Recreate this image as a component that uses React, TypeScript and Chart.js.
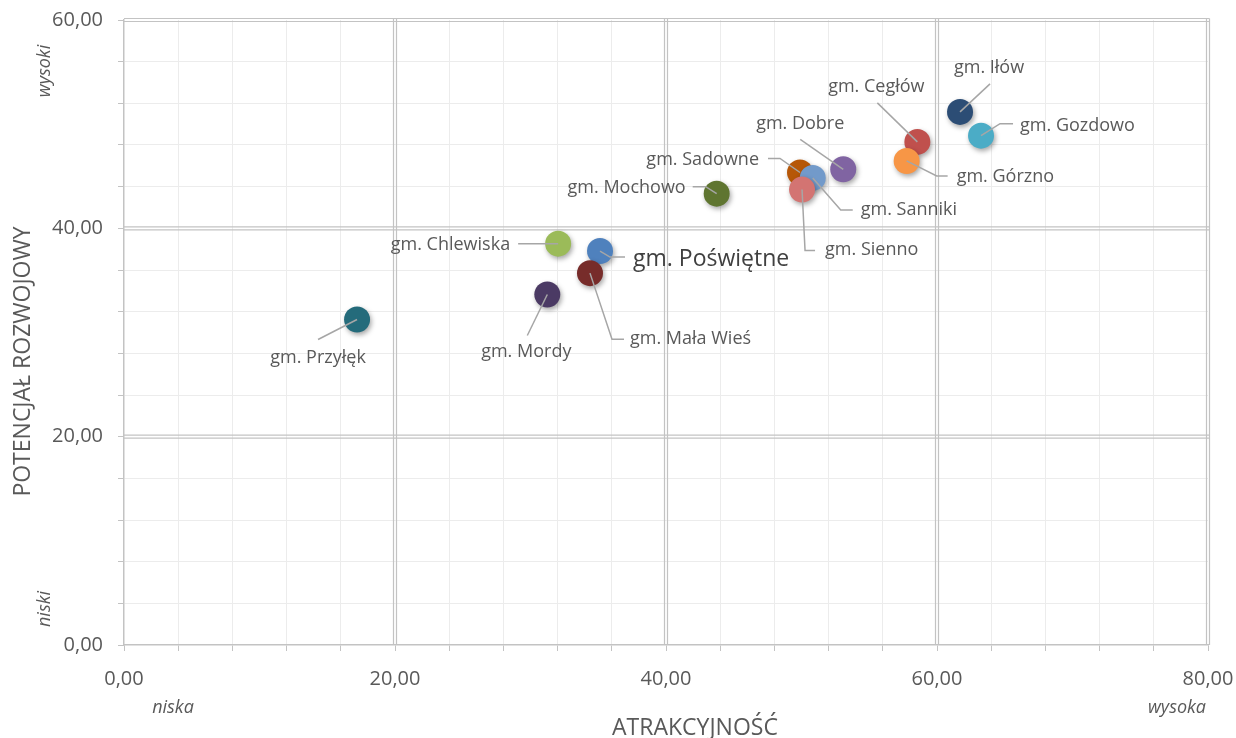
import React, { useEffect, useRef } from 'react';
import { Chart, registerables } from 'chart.js';

Chart.register(...registerables);

// ---- data ----
const gminy = [
  'gm. Przyłęk', 'gm. Mordy', 'gm. Chlewiska', 'gm. Poświętne', 'gm. Mała Wieś',
  'gm. Mochowo', 'gm. Sadowne', 'gm. Sanniki', 'gm. Sienno', 'gm. Dobre',
  'gm. Cegłów', 'gm. Górzno', 'gm. Iłów', 'gm. Gozdowo',
];
const atrakcyjnosc = [17.2, 31.24, 32.04, 35.13, 34.39, 43.74, 49.89, 50.83, 50.04, 53.08, 58.55, 57.76, 61.7, 63.25];
const potencjal = [31.25, 33.65, 38.53, 37.82, 35.7, 43.33, 45.36, 44.84, 43.72, 45.67, 48.3, 46.47, 51.18, 48.9];
const kolory = [
  '#246B7B', '#4B3A64', '#9BBB59', '#4F81BD', '#772C2A',
  '#5F7530', '#B65708', '#729ACA', '#D37472', '#8064A2',
  '#C0504D', '#F79646', '#2C4D75', '#4BACC6',
];
const highlighted = 'gm. Poświętne';

const xTitle = 'ATRAKCYJNOŚĆ';
const yTitle = 'POTENCJAŁ ROZWOJOWY';
const xLow = 'niska';
const xHigh = 'wysoka';
const yLow = 'niski';
const yHigh = 'wysoki';

const xMin = 0, xMax = 80, yMin = 0, yMax = 60;
const majorStep = 20;
const minorStep = 4;

// ---- label layout (pixel offsets from each point centre) ----
type Lay = { path: number[][]; text: number[]; align: CanvasTextAlign };
const labelLayout: Lay[] = [
  { path: [[-39, 20]], text: [-39, 38], align: 'center' },
  { path: [[-20, 41]], text: [-21, 57], align: 'center' },
  { path: [[-40, 0]], text: [-48, 1], align: 'right' },
  { path: [[10, 6], [25, 6]], text: [33, 8], align: 'left' },
  { path: [[22, 66], [34, 66]], text: [40, 66], align: 'left' },
  { path: [[-11, -7], [-24, -7]], text: [-31, -6], align: 'right' },
  { path: [[-20, -14], [-32, -14]], text: [-41, -13], align: 'right' },
  { path: [[28, 32], [40, 32]], text: [48, 32], align: 'left' },
  { path: [[3, 61], [13, 61]], text: [23, 60], align: 'left' },
  { path: [[-43, -30]], text: [-43, -45], align: 'center' },
  { path: [[-40, -39]], text: [-41, -55], align: 'center' },
  { path: [[30, 15], [41, 15]], text: [50, 16], align: 'left' },
  { path: [[30, -28]], text: [29, -44], align: 'center' },
  { path: [[19, -12], [32, -12]], text: [39, -10], align: 'left' },
];

const FONT = '"Open Sans", "Noto Sans", sans-serif';
const GRID_MINOR = '#ececec';
const GRID_MAJOR = '#c3c3c3';
const TEXT = '#595959';

const isMajor = (v: number) => Math.abs(v / majorStep - Math.round(v / majorStep)) < 1e-6;
const fmt = (v: number) => v.toFixed(2).replace('.', ',');

const shadowPlugin = {
  id: 'pointShadow',
  beforeDatasetDraw(chart: any) {
    const c = chart.ctx;
    c.save();
    c.shadowColor = 'rgba(0,0,0,0.35)';
    c.shadowBlur = 5;
    c.shadowOffsetX = 1.5;
    c.shadowOffsetY = 2.5;
  },
  afterDatasetDraw(chart: any) {
    chart.ctx.restore();
  },
};

const majorGridPlugin = {
  id: 'majorGrid',
  beforeDatasetsDraw(chart: any) {
    const { ctx, chartArea: a, scales } = chart;
    ctx.save();
    ctx.strokeStyle = GRID_MAJOR;
    ctx.lineWidth = 1.2;
    for (let v = xMin + majorStep; v <= xMax + 1e-6; v += majorStep) {
      const p = scales.x.getPixelForValue(v);
      for (const d of [-1.5, 1.5]) {
        ctx.beginPath();
        ctx.moveTo(p + d, a.top - 1.5);
        ctx.lineTo(p + d, a.bottom);
        ctx.stroke();
      }
    }
    for (let v = yMin + majorStep; v <= yMax + 1e-6; v += majorStep) {
      const p = scales.y.getPixelForValue(v);
      for (const d of [-1.5, 1.5]) {
        ctx.beginPath();
        ctx.moveTo(a.left, p + d);
        ctx.lineTo(a.right + 1.5, p + d);
        ctx.stroke();
      }
    }
    ctx.restore();
  },
};

const labelsPlugin = {
  id: 'leaderLabels',
  afterDatasetsDraw(chart: any) {
    const { ctx } = chart;
    const meta = chart.getDatasetMeta(0);
    ctx.save();
    meta.data.forEach((pt: any, i: number) => {
      const lay = labelLayout[i];
      const x0 = pt.x, y0 = pt.y;
      ctx.strokeStyle = '#a6a6a6';
      ctx.lineWidth = 1.5;
      ctx.beginPath();
      ctx.moveTo(x0, y0);
      lay.path.forEach((p) => ctx.lineTo(x0 + p[0], y0 + p[1]));
      ctx.stroke();
      const big = gminy[i] === highlighted;
      ctx.font = big ? `23px ${FONT}` : `18px ${FONT}`;
      ctx.fillStyle = big ? '#404040' : TEXT;
      ctx.textAlign = lay.align;
      ctx.textBaseline = 'middle';
      ctx.fillText(gminy[i], x0 + lay.text[0], y0 + lay.text[1]);
    });
    ctx.restore();
  },
  afterDraw(chart: any) {
    const { ctx, chartArea: a } = chart;
    ctx.save();
    ctx.fillStyle = TEXT;
    ctx.textBaseline = 'middle';
    ctx.textAlign = 'center';
    // axis titles
    ctx.font = `23px ${FONT}`;
    ctx.fillText(xTitle, (a.left + a.right) / 2 + 29, a.bottom + 83);
    ctx.save();
    ctx.translate(a.left - 101, (a.top + a.bottom) / 2 + 29);
    ctx.rotate(-Math.PI / 2);
    ctx.fillText(yTitle, 0, 0);
    ctx.restore();
    // italic range labels
    ctx.font = `italic 18px ${FONT}`;
    ctx.fillText(xLow, a.left + 49, a.bottom + 63);
    ctx.fillText(xHigh, a.right - 31, a.bottom + 63);
    ctx.save();
    ctx.translate(a.left - 79, a.top + 51);
    ctx.rotate(-Math.PI / 2);
    ctx.fillText(yHigh, 0, 0);
    ctx.restore();
    ctx.save();
    ctx.translate(a.left - 79, a.bottom - 36);
    ctx.rotate(-Math.PI / 2);
    ctx.fillText(yLow, 0, 0);
    ctx.restore();
    ctx.restore();
  },
};

export default function App() {
  const ref = useRef<HTMLCanvasElement | null>(null);

  useEffect(() => {
    if (!ref.current) return;
    const gridColor = (c: any) => {
      const v = c.tick ? c.tick.value : 0;
      return isMajor(v) ? 'rgba(0,0,0,0)' : GRID_MINOR;
    };
    const chart = new Chart(ref.current, {
      type: 'scatter',
      data: {
        datasets: [
          {
            label: 'gminy',
            data: atrakcyjnosc.map((x, i) => ({ x, y: potencjal[i] })),
            pointRadius: 13,
            pointHoverRadius: 13,
            pointBackgroundColor: kolory,
            pointBorderWidth: 0,
            borderWidth: 0,
          } as any,
        ],
      },
      options: {
        animation: false,
        responsive: true,
        maintainAspectRatio: false,
        layout: { padding: { top: 20, right: 28, left: 0, bottom: 0 } },
        plugins: {
          legend: { display: false },
          tooltip: { enabled: false },
        },
        scales: {
          x: {
            type: 'linear',
            min: xMin,
            max: xMax,
            afterFit: (s: any) => {
              s.height = 93;
              s.paddingLeft = 0;
              s.paddingRight = 0;
            },
            ticks: {
              stepSize: minorStep,
              autoSkip: false,
              maxRotation: 0,
              padding: 16,
              color: TEXT,
              font: { family: FONT, size: 20 },
              callback: (v: any) => (isMajor(Number(v)) ? fmt(Number(v)) : ''),
            },
            grid: { color: gridColor, lineWidth: 1, tickLength: 6, tickColor: GRID_MAJOR, drawTicks: true },
            border: { color: GRID_MAJOR, width: 1.5 },
          },
          y: {
            type: 'linear',
            min: yMin,
            max: yMax,
            afterFit: (s: any) => {
              s.width = 124;
              s.paddingTop = 0;
              s.paddingBottom = 0;
            },
            ticks: {
              stepSize: minorStep,
              autoSkip: false,
              padding: 15,
              color: TEXT,
              font: { family: FONT, size: 20 },
              callback: (v: any) => (isMajor(Number(v)) ? fmt(Number(v)) : ''),
            },
            grid: { color: gridColor, lineWidth: 1, tickLength: 6, tickColor: GRID_MAJOR, drawTicks: true },
            border: { color: GRID_MAJOR, width: 1.5 },
          },
        },
      },
      plugins: [majorGridPlugin, shadowPlugin, labelsPlugin],
    });
    return () => chart.destroy();
  }, []);

  return (
    <div style={{ position: 'fixed', left: 0, top: 0, width: 1236, height: 738, background: '#fff' }}>
      <canvas ref={ref} />
    </div>
  );
}
